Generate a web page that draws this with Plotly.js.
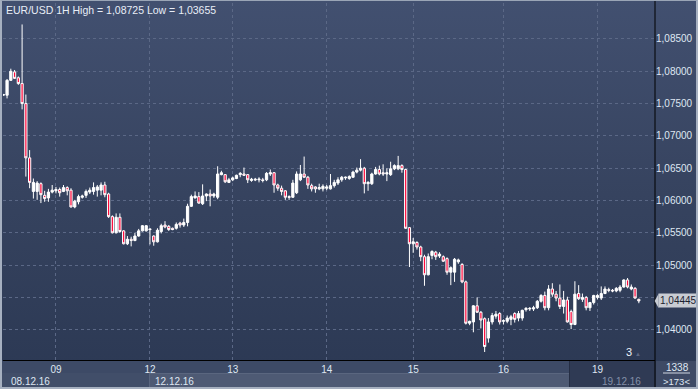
<!DOCTYPE html>
<html>
<head>
<meta charset="utf-8">
<script src="https://cdn.plot.ly/plotly-3.0.1.min.js"></script>
<style>
  html, body { margin:0; padding:0; background:#2d3a55; }
  #wrap { position:relative; width:698px; height:389px; overflow:hidden;
          background: linear-gradient(to bottom, #425070 0%, #36435f 50%, #2b3853 100%); }
  .blk { position:absolute; }
  #chart { position:absolute; left:0; top:0; width:698px; height:389px; }
  #frame { position:absolute; left:0; top:0; width:698px; height:389px; box-sizing:border-box;
           border-left:2px solid #a6b0c0; border-top:1px solid #9aa5b6; border-right:2px solid #a6b0c0; border-bottom:2px solid #a6b0c0;
           pointer-events:none; }
</style>
</head>
<body>
<div id="wrap">
  <div class="blk" style="left:0;top:361px;width:656px;height:28px;background:#3d4a66;"></div>
  <div class="blk" style="left:0;top:373px;width:149px;height:16px;background:#414e69;"></div>
  <div class="blk" style="left:149px;top:373px;width:420px;height:16px;background:#4e5a74;border-top:1px solid #5a667f;border-left:1px solid #5a667f;box-sizing:border-box;"></div>
  <div class="blk" style="left:569px;top:361px;width:87px;height:28px;background:#2f3a54;border-left:1px solid #252e44;box-sizing:border-box;"></div>
  <div class="blk" style="left:656px;top:361px;width:42px;height:28px;background:#3e4a65;"></div>
  <div id="chart"></div>
  <div id="frame"></div>
</div>
<script>
// ---- data (EUR/USD 1H candles) ----
const openP = [1.0763,1.0763,1.0786,1.0799,1.0790,1.0781,1.0750,1.0666,1.0614,1.0614,
1.0626,1.0608,1.0604,1.0613,1.0615,1.0617,1.0614,1.0620,1.0616,1.0590,
1.0598,1.0605,1.0608,1.0613,1.0614,1.0616,1.0616,1.0624,1.0610,1.0575,
1.0550,1.0574,1.0553,1.0533,1.0540,1.0538,1.0545,1.0553,1.0553,1.0556,
1.0545,1.0536,1.0552,1.0562,1.0560,1.0557,1.0557,1.0565,1.0562,1.0566,
1.0591,1.0604,1.0606,1.0595,1.0607,1.0610,1.0607,1.0605,1.0640,1.0640,
1.0628,1.0632,1.0634,1.0640,1.0641,1.0640,1.0631,1.0633,1.0632,1.0632,
1.0632,1.0641,1.0643,1.0624,1.0619,1.0615,1.0606,1.0605,1.0612,1.0632,
1.0641,1.0636,1.0623,1.0621,1.0618,1.0618,1.0619,1.0618,1.0623,1.0627,
1.0632,1.0635,1.0634,1.0636,1.0644,1.0647,1.0650,1.0626,1.0626,1.0641,
1.0648,1.0643,1.0641,1.0640,1.0649,1.0649,1.0654,1.0648,1.0558,1.0533,
1.0535,1.0528,1.0513,1.0485,1.0515,1.0520,1.0514,1.0513,1.0510,1.0489,
1.0489,1.0505,1.0501,1.0474,1.0410,1.0412,1.0437,1.0427,1.0417,1.0387,
1.0412,1.0421,1.0425,1.0413,1.0413,1.0416,1.0425,1.0418,1.0418,1.0431,
1.0432,1.0432,1.0434,1.0444,1.0453,1.0434,1.0463,1.0455,1.0449,1.0436,
1.0446,1.0428,1.0408,1.0456,1.0447,1.0450,1.0434,1.0442,1.0450,1.0449,
1.0456,1.0462,1.0461,1.0460,1.0461,1.0466,1.0477,1.0463,1.0464,1.0447];
const highP = [1.0765,1.0788,1.0804,1.0802,1.0792,1.08725,1.0764,1.0678,1.0634,1.0630,
1.0628,1.0615,1.0618,1.0624,1.0621,1.0620,1.0624,1.0622,1.0619,1.0601,
1.0609,1.0609,1.0617,1.0620,1.0628,1.0624,1.0628,1.0629,1.0612,1.0577,
1.0580,1.0580,1.0554,1.0545,1.0544,1.0550,1.0556,1.0562,1.0562,1.0557,
1.0546,1.0557,1.0564,1.0568,1.0562,1.0558,1.0566,1.0567,1.0572,1.0595,
1.0609,1.0614,1.0613,1.0625,1.0611,1.0617,1.0612,1.0653,1.0646,1.0641,
1.0635,1.0637,1.0640,1.0644,1.0651,1.0641,1.0635,1.0635,1.0636,1.0635,
1.0644,1.0648,1.0644,1.0626,1.0623,1.0616,1.0608,1.0632,1.0645,1.0655,
1.0668,1.0638,1.0626,1.0622,1.0626,1.0625,1.0624,1.0641,1.0632,1.0636,
1.0638,1.0637,1.0639,1.0646,1.0651,1.0664,1.0652,1.0630,1.0643,1.0652,
1.0654,1.0656,1.0650,1.0660,1.0656,1.0669,1.0656,1.0649,1.0559,1.0542,
1.0537,1.0530,1.0516,1.0518,1.0523,1.0522,1.0520,1.0515,1.0512,1.0498,
1.0511,1.0510,1.0503,1.0476,1.0414,1.0438,1.0450,1.0429,1.0419,1.0418,
1.0426,1.0429,1.0427,1.0416,1.0422,1.0423,1.0427,1.0429,1.0431,1.0435,
1.0435,1.0437,1.0446,1.0455,1.0459,1.0469,1.0472,1.0460,1.0470,1.0460,
1.0451,1.0431,1.0475,1.0469,1.0456,1.0452,1.0443,1.0454,1.0455,1.0467,
1.0467,1.0465,1.0463,1.0466,1.0469,1.0478,1.0480,1.0470,1.0466,1.0448];
const lowP = [1.0762,1.0758,1.0785,1.0788,1.0779,1.0741,1.0637,1.0619,1.0603,1.0601,
1.0596,1.0598,1.0598,1.0611,1.0611,1.0606,1.0613,1.0608,1.0589,1.0588,
1.0594,1.0603,1.0604,1.0610,1.0609,1.0606,1.0608,1.0605,1.0573,1.0549,
1.0549,1.0550,1.0532,1.0531,1.0529,1.0537,1.0544,1.0552,1.0552,1.0532,
1.0530,1.0535,1.0549,1.0557,1.0553,1.0554,1.0555,1.0558,1.0559,1.0560,
1.0590,1.0603,1.0595,1.0593,1.0599,1.0591,1.0604,1.0602,1.0639,1.0627,
1.0627,1.0630,1.0633,1.0636,1.0638,1.0627,1.0629,1.0630,1.0628,1.0628,
1.0630,1.0638,1.0612,1.0615,1.0608,1.0601,1.0601,1.0604,1.0610,1.0630,
1.0635,1.0618,1.0614,1.0612,1.0616,1.0614,1.0616,1.0617,1.0620,1.0624,
1.0629,1.0632,1.0632,1.0635,1.0642,1.0645,1.0611,1.0615,1.0624,1.0640,
1.0639,1.0638,1.0630,1.0638,1.0647,1.0647,1.0643,1.0556,1.0497,1.0519,
1.0524,1.0506,1.0468,1.0484,1.0509,1.0508,1.0511,1.0505,1.0485,1.0469,
1.0474,1.0502,1.0472,1.0408,1.0407,1.0396,1.0426,1.0402,1.03655,1.0380,
1.0408,1.0417,1.0408,1.0408,1.0410,1.0407,1.0411,1.0413,1.0414,1.0428,
1.0429,1.0429,1.0432,1.0442,1.0430,1.0430,1.0451,1.0444,1.0432,1.0425,
1.0411,1.0401,1.0407,1.0446,1.0443,1.0430,1.0429,1.0439,1.0447,1.0446,
1.0455,1.0458,1.0458,1.0458,1.0458,1.0465,1.0464,1.0461,1.0448,1.0441];
const closeP = [1.0764,1.0786,1.0800,1.0789,1.0781,1.0750,1.0666,1.0628,1.0628,1.0627,
1.0609,1.0603,1.0613,1.0616,1.0617,1.0612,1.0620,1.0615,1.0590,1.0599,
1.0606,1.0607,1.0614,1.0616,1.0620,1.0621,1.0624,1.0609,1.0575,1.0550,
1.0574,1.0552,1.0533,1.0540,1.0538,1.0545,1.0553,1.0561,1.0561,1.0555,
1.0536,1.0554,1.0561,1.0559,1.0555,1.0555,1.0563,1.0562,1.0566,1.0591,
1.0606,1.0607,1.0596,1.0607,1.0610,1.0607,1.0610,1.0641,1.0643,1.0629,
1.0632,1.0635,1.0639,1.0642,1.0639,1.0632,1.0633,1.0632,1.0633,1.0631,
1.0642,1.0643,1.0624,1.0619,1.0614,1.0605,1.0605,1.0627,1.0641,1.0641,
1.0636,1.0624,1.0618,1.0618,1.0620,1.0622,1.0621,1.0623,1.0628,1.0632,
1.0636,1.0636,1.0637,1.0644,1.0647,1.0650,1.0626,1.0628,1.0641,1.0648,
1.0641,1.0641,1.0643,1.0649,1.0654,1.0654,1.0648,1.0557,1.0533,1.0536,
1.0528,1.0513,1.0485,1.0513,1.0521,1.0513,1.0517,1.0506,1.0489,1.0496,
1.0509,1.0508,1.0474,1.0410,1.0413,1.0437,1.0427,1.0415,1.0374,1.0412,
1.0422,1.0424,1.0412,1.0414,1.0418,1.0420,1.0416,1.0425,1.0430,1.0433,
1.0433,1.0434,1.0444,1.0453,1.0434,1.0463,1.0455,1.0449,1.0436,1.0446,
1.0412,1.0408,1.0455,1.0448,1.0450,1.0434,1.0442,1.0453,1.0453,1.0456,
1.0463,1.0461,1.0460,1.0464,1.0466,1.0477,1.0466,1.0466,1.0449,1.04445];

const dayTickIdx   = [14, 39, 61, 86, 109, 133, 158];
const dayTickText  = ["09", "12", "13", "14", "15", "16", "19"];
const dateLabelIdx = [0, 39, 158];
const dateLabels   = ["08.12.16", "12.12.16", "19.12.16"];
const priceTicks   = [1.040, 1.045, 1.050, 1.055, 1.060, 1.065, 1.070, 1.075, 1.080, 1.085];
const priceTickText= ["1,04000", "", "1,05000", "1,05500", "1,06000", "1,06500", "1,07000", "1,07500", "1,08000", "1,08500"];
const titleText    = "EUR/USD 1H High = 1,08725 Low = 1,03655";
const lastPrice    = 1.04445;
const lastPriceText= "1,04445";
const counterTop   = "1338";
const counterBot   = ">173<";
const barsRightMark= "3";

const xIdx = openP.map((_, i) => i);

const FONT = "Liberation Sans, Arial, sans-serif";
const txtCol = "#dfe7f2";
const bottomH = 29, plotH = 357, plotW = 652;
const py = px => -px / plotH;      // px below plot bottom -> paper y
const pxR = px => 1 + px / plotW;  // px right of plot edge -> paper x

const trace = {
  type: "candlestick",
  x: xIdx, open: openP, high: highP, low: lowP, close: closeP,
  increasing: { line: { color: "#ffffff", width: 1 }, fillcolor: "#ffffff" },
  decreasing: { line: { color: "#ffffff", width: 1 }, fillcolor: "#ff0a3c" },
  whiskerwidth: 0,
  hoverinfo: "skip",
  showlegend: false
};

const annotations = [
  { xref: "paper", yref: "paper", x: 0.002, y: 1.0, xanchor: "left", yanchor: "top", yshift: 1,
    text: titleText, showarrow: false, font: { family: FONT, size: 10.5, color: "#e8eef7" } },
  { xref: "paper", yref: "y", x: 1.0, y: lastPrice, xanchor: "left", yanchor: "middle", xshift: 3,
    text: lastPriceText, showarrow: false, bgcolor: "#c8ccd3", borderpad: 1,
    font: { family: FONT, size: 10, color: "#1c2230" } },
  { xref: "paper", yref: "paper", x: pxR(22), y: py(7), xanchor: "center", yanchor: "middle",
    text: counterTop, showarrow: false, font: { family: FONT, size: 10, color: txtCol } },
  { xref: "paper", yref: "paper", x: pxR(21), y: py(21), xanchor: "center", yanchor: "middle",
    text: counterBot, showarrow: false, font: { family: FONT, size: 9.5, color: txtCol } },
  { xref: "x", yref: "paper", x: 166.5, y: 0, xanchor: "center", yanchor: "bottom", yshift: 0,
    text: barsRightMark, showarrow: false, font: { family: FONT, size: 11, color: "#eef3fa" } },
  { xref: "x", yref: "paper", x: 168.8, y: 0, xanchor: "center", yanchor: "bottom", yshift: 1,
    text: "\u25B2", showarrow: false, font: { family: FONT, size: 6, color: "#5d6984" } }
];
dateLabels.forEach((t, i) => {
  annotations.push({ xref: "x", yref: "paper", x: dateLabelIdx[i], y: py(21), xanchor: "left", yanchor: "middle",
    xshift: i === 0 ? 6 : 3, text: t, showarrow: false,
    font: { family: FONT, size: 10, color: i === 2 ? "#8390a8" : txtCol } });
});

const shapes = [
  { type: "line", xref: "paper", yref: "paper", x0: 1, x1: 1, y0: py(bottomH + 2), y1: 1.02, line: { color: "#000000", width: 1 } },
  { type: "line", xref: "paper", yref: "paper", x0: pxR(8), x1: pxR(35), y0: py(13), y1: py(13), line: { color: "#cfd6e2", width: 1 } },
  { type: "path", xref: "paper", yref: "y", layer: "above",
    path: "M 0.9995 " + lastPrice + " L 1.0055 " + (lastPrice + 0.0011) + " L 1.0055 " + (lastPrice - 0.0011) + " Z",
    fillcolor: "#c8ccd3", line: { width: 0 } }
];

const layout = {
  width: 698, height: 389,
  margin: { l: 3, r: 43, t: 3, b: 29, pad: 0 },
  paper_bgcolor: "rgba(0,0,0,0)", plot_bgcolor: "rgba(0,0,0,0)",
  boxgap: 0.15,
  showlegend: false,
  xaxis: {
    range: [-0.08, 173.3], rangeslider: { visible: false },
    tickmode: "array", tickvals: dayTickIdx, ticktext: dayTickText,
    ticks: "", showline: true, linecolor: "#000000", linewidth: 1,
    showgrid: true, gridcolor: "#5b6886", griddash: "dot", gridwidth: 1,
    zeroline: false, fixedrange: true,
    tickfont: { family: FONT, size: 10, color: txtCol }
  },
  yaxis: {
    side: "right", range: [1.03531, 1.09057],
    tickmode: "array", tickvals: priceTicks, ticktext: priceTickText,
    ticks: "", showline: false,
    showgrid: true, gridcolor: "#5b6886", griddash: "dot", gridwidth: 1,
    zeroline: false, fixedrange: true,
    tickfont: { family: FONT, size: 10, color: txtCol }
  },
  annotations: annotations,
  shapes: shapes
};

Plotly.newPlot("chart", [trace], layout, { displayModeBar: false, staticPlot: true });
</script>
</body>
</html>
